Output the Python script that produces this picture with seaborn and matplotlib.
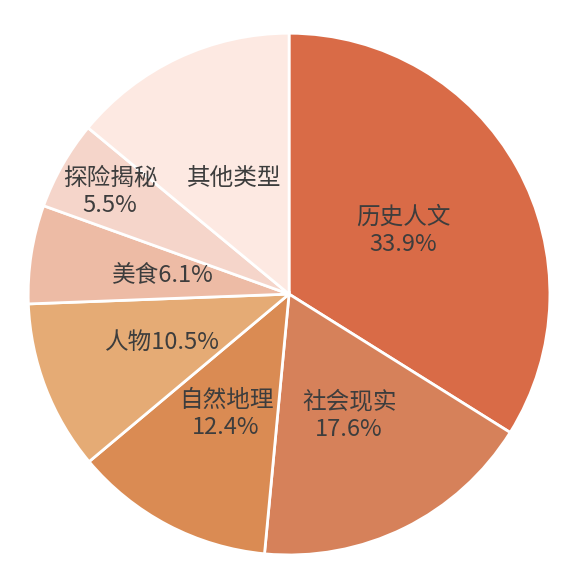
import numpy as np
import matplotlib
matplotlib.use("Agg")
import matplotlib.pyplot as plt
import seaborn as sns

# data
categories = ["历史人文", "社会现实", "自然地理", "人物", "美食", "探险揭秘", "其他类型"]
shares = [33.9, 17.6, 12.4, 10.5, 6.1, 5.5, 14.0]
label_texts = ["历史人文\n33.9%", "社会现实\n17.6%", "自然地理\n12.4%",
               "人物10.5%", "美食6.1%", "探险揭秘\n5.5%", "其他类型"]
label_dist = [0.50, 0.52, 0.52, 0.52, 0.49, 0.79, 0.49]
colors = ["#D96B47", "#D6815A", "#DA8B53", "#E5AB75", "#EDBBA5", "#F5D5CA", "#FDE9E2"]

sns.set_theme(style="white")
plt.rcParams['font.family'] = ['Noto Sans CJK SC', 'DejaVu Sans']

fig, ax = plt.subplots(figsize=(5.76, 5.72), dpi=100)
fig.subplots_adjust(left=0, right=1, bottom=0, top=1)

wedges, _ = ax.pie(shares, colors=colors, startangle=90, counterclock=False,
                   radius=1.0, wedgeprops=dict(edgecolor="white", linewidth=2))

for w, txt, d in zip(wedges, label_texts, label_dist):
    ang = np.deg2rad((w.theta1 + w.theta2) / 2)
    ax.text(d * np.cos(ang), d * np.sin(ang), txt, ha="center", va="center",
            fontsize=17, color="#3d3d3d", linespacing=1.22)

ax.set_xlim(-1.108, 1.100)
ax.set_ylim(-1.065, 1.127)
ax.set_aspect("equal")
ax.axis("off")

fig.savefig("out.png", dpi=100)
